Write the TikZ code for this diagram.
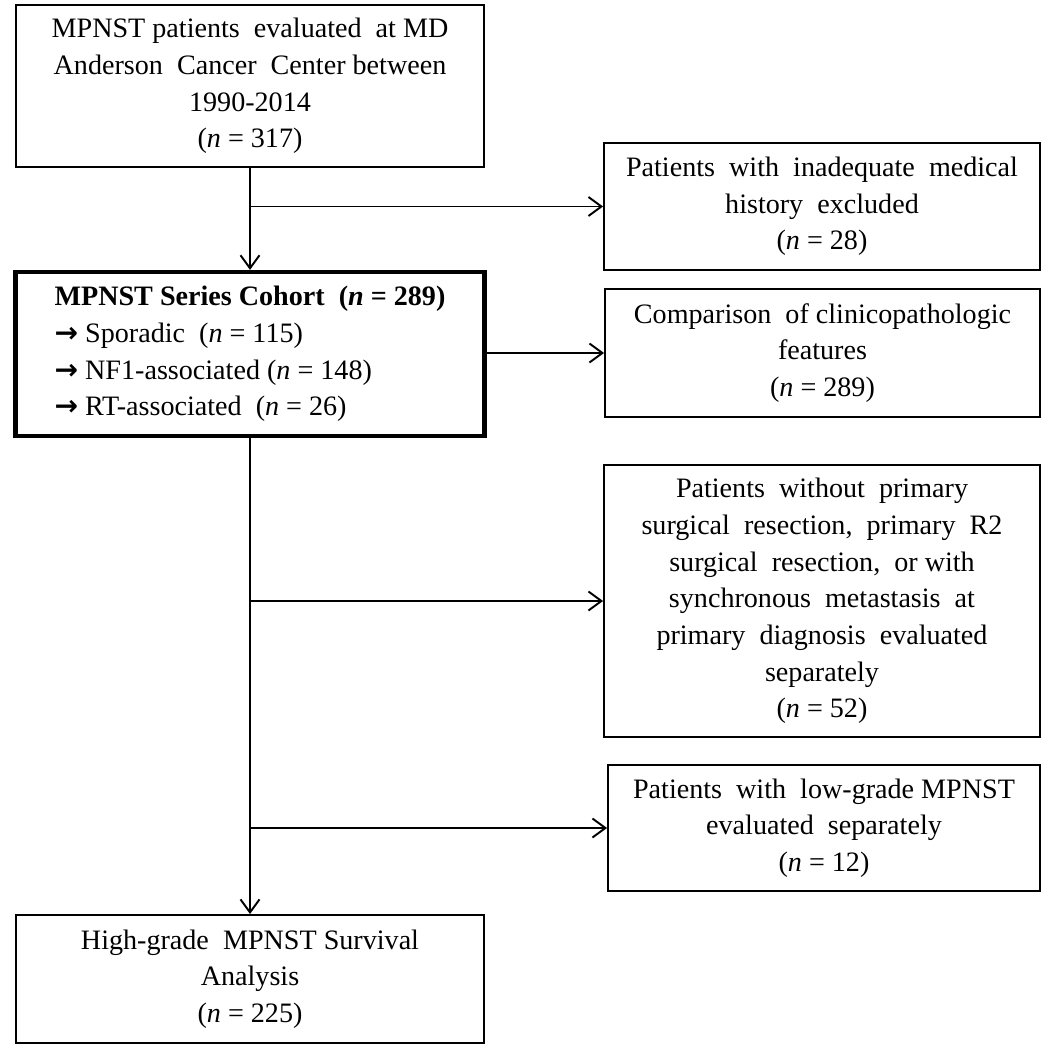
\documentclass[tikz,border=0pt]{standalone}
\usepackage{fontspec}
\setmainfont{Liberation Serif}
\newfontfamily\arrowfont{DejaVu Sans}
\usetikzlibrary{arrows.meta}

\begin{document}
\begin{tikzpicture}[x=0.02cm,y=-0.02cm,
  box/.style={draw,line width=1.1pt,align=center,inner sep=0pt,
    font=\fontsize{16}{20.9}\selectfont},
  flow/.style={line width=1.1pt,-{Straight Barb[length=0.26cm,width=0.38cm,line width=1.1pt]}}]
\useasboundingbox (0,0) rectangle (1050,1050);

% left column
\node[box,minimum width=9.38cm,minimum height=3.24cm] (top) at (250,86)
  {MPNST patients\ \ evaluated\ \ at MD\\Anderson\ \ Cancer\ \ Center between\\1990-2014\\(\textit{n} = 317)};
\node[box,line width=2.4pt,align=left,minimum width=9.38cm,minimum height=3.28cm] (cohort) at (250,354)
  {\textbf{MPNST Series Cohort\ \ (\textit{n} = 289)}\\
   {\arrowfont\bfseries →} Sporadic\ \ (\textit{n} = 115)\\
   {\arrowfont\bfseries →} NF1-associated (\textit{n} = 148)\\
   {\arrowfont\bfseries →} RT-associated\ \ (\textit{n} = 26)};
\node[box,minimum width=9.38cm,minimum height=2.56cm] (final) at (250,979)
  {High-grade\ \ MPNST Survival\\Analysis\\(\textit{n} = 225)};

% right column
\node[box,minimum width=8.72cm,minimum height=2.54cm] (excl) at (822,206.5)
  {Patients\ \ with\ \ inadequate\ \ medical\\history\ \ excluded\\(\textit{n} = 28)};
\node[box,minimum width=8.70cm,minimum height=2.56cm] (comp) at (822.5,353)
  {Comparison\ \ of clinicopathologic\\features\\(\textit{n} = 289)};
\node[box,minimum width=8.72cm,minimum height=5.44cm] (nosurg) at (822,601)
  {Patients\ \ without\ \ primary\\surgical\ \ resection,\ \ primary\ \ R2\\surgical\ \ resection,\ \ or with\\synchronous\ \ metastasis\ \ at\\primary\ \ diagnosis\ \ evaluated\\separately\\(\textit{n} = 52)};
\node[box,minimum width=8.64cm,minimum height=2.52cm] (lowgrade) at (824,828)
  {Patients\ \ with\ \ low-grade MPNST\\evaluated\ \ separately\\(\textit{n} = 12)};

% connectors
\draw[flow] (top) -- (cohort);
\draw[flow] (top.south |- excl.west) -- (excl.west);
\draw[flow] (cohort.east |- comp.west) -- (comp.west);
\draw[flow] (cohort) -- (final);
\draw[flow] (cohort.south |- nosurg.west) -- (nosurg.west);
\draw[flow] (cohort.south |- lowgrade.west) -- (lowgrade.west);
\end{tikzpicture}
\end{document}
